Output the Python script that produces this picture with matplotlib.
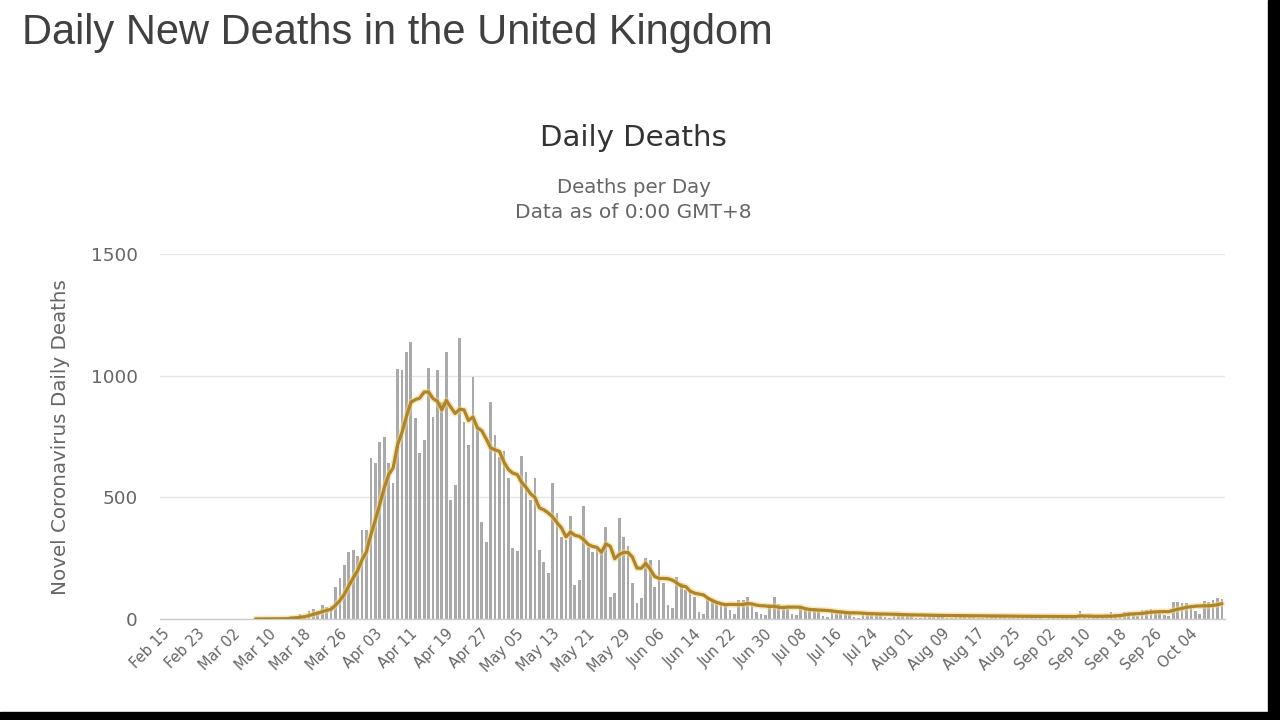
import matplotlib
matplotlib.use("Agg")
import matplotlib.pyplot as plt
import numpy as np
import pandas as pd

# ---------------- data (daily new deaths) ----------------
start_date = "2020-02-15"
feb = [0] * 15
mar = [0, 0, 0, 0, 1, 1, 0, 1, 1, 2, 2, 2, 1, 11, 14, 20, 16, 33, 40, 33,
       56, 48, 54, 133, 168, 222, 275, 283, 260, 366, 366]
apr = [661, 643, 727, 749, 640, 559, 1027, 1022, 1098, 1139, 826, 682, 735, 1031, 830,
       1022, 892, 1098, 489, 550, 1154, 811, 715, 995, 790, 400, 318, 893, 756, 667]
may = [690, 579, 292, 280, 670, 605, 489, 579, 283, 235, 189, 558, 435, 338, 325, 423,
       140, 160, 464, 297, 277, 300, 282, 379, 92, 108, 416, 337, 300, 148, 66]
jun = [86, 250, 242, 133, 242, 148, 58, 45, 174, 148, 120, 110, 90, 30, 22, 82, 78, 66,
       70, 65, 37, 20, 80, 80, 92, 60, 30, 20, 15, 60]
jul = [92, 60, 55, 40, 20, 15, 55, 50, 40, 45, 35, 12, 8, 40, 35, 30, 28, 25, 10, 6,
       30, 28, 25, 24, 22, 8, 5, 25, 22, 20, 20]
aug = [18, 6, 4, 22, 18, 18, 17, 15, 6, 4, 20, 17, 16, 16, 14, 5, 3, 18, 16, 15, 14,
       13, 5, 3, 16, 14, 13, 12, 12, 5, 2]
sep = [14, 12, 14, 12, 10, 5, 3, 32, 8, 14, 6, 9, 5, 9, 27, 20, 21, 27, 27, 18, 11,
       37, 37, 40, 34, 34, 17, 13, 71, 71]
oct_ = [66, 66, 49, 33, 19, 76, 70, 77, 87, 81]

title = "Daily New Deaths in the United Kingdom"
chart_title = "Daily Deaths"
subtitle1 = "Deaths per Day"
subtitle2 = "Data as of 0:00 GMT+8"
ylabel = "Novel Coronavirus Daily Deaths"
yticks = [0, 500, 1000, 1500]
label_step = 8
last_label = "Oct 04"

values = feb + mar + apr + may + jun + jul + aug + sep + oct_
dates = pd.date_range(start_date, periods=len(values), freq="D")
labels = [d.strftime("%b %d") for d in dates]

# ---------------- figure ----------------
W, H = 1280, 720
fig = plt.figure(figsize=(W / 100, H / 100), dpi=100)
fig.patch.set_facecolor("white")


def fx(px):
    return px / W


def fy(py):
    return 1 - py / H


ax = fig.add_axes([fx(160), fy(619), fx(1225) - fx(160), fy(254) - fy(619)])
idx = np.arange(len(values))

ax.bar(idx, values, width=0.62, color="#aaaaaa", linewidth=0, zorder=2)

avg = pd.Series(values, dtype=float).rolling(7, min_periods=1).mean()
first = int(np.argmax(np.array(values) > 0)) + 1
ax.plot(idx[first:], avg.values[first:], color="#efd68c", lw=4.6, alpha=0.55,
        zorder=3, solid_capstyle="round")
ax.plot(idx[first:], avg.values[first:], color="#b08428", lw=2.3, zorder=4,
        solid_capstyle="round")

ax.set_xlim(-1.6, 238.7)
ax.set_ylim(0, 1500)
ax.set_yticks(yticks)
ax.set_yticklabels([str(v) for v in yticks])
ax.yaxis.grid(True, color="#e6e6e6", lw=1)
ax.set_axisbelow(True)
for s in ["top", "right", "left"]:
    ax.spines[s].set_visible(False)
ax.spines["bottom"].set_color("#cccccc")
ax.spines["bottom"].set_linewidth(1)

tick_pos = [i for i in range(0, len(values), label_step) if i <= labels.index(last_label)]
ax.set_xticks(tick_pos)
ax.set_xticklabels([labels[i] for i in tick_pos], rotation=45, ha="right",
                   rotation_mode="anchor", va="center")
ax.tick_params(axis="x", length=0, pad=9, labelsize=10.5, labelcolor="#666666")
ax.tick_params(axis="y", length=0, pad=16, labelsize=13.2, labelcolor="#666666")
for t in ax.get_xticklabels() + ax.get_yticklabels():
    t.set_fontfamily("DejaVu Sans")

renderer = fig.canvas.get_renderer()


def fit_text(x, y, s, target_w, ha="center", va="baseline", rotation=0, **kw):
    t = fig.text(fx(x), fy(y), s, fontsize=20, ha=ha, va=va, **kw)
    w = t.get_window_extent(renderer).width
    t.set_fontsize(20 * target_w / w)
    t.set_rotation(rotation)
    return t


fit_text(22, 44, title, 751, ha="left", color="#404040", family="Liberation Sans")
fit_text(633, 146, chart_title, 187, color="#333333", family="DejaVu Sans")
fit_text(634, 193, subtitle1, 154, color="#666666", family="DejaVu Sans")
fit_text(633, 218, subtitle2, 236, color="#666666", family="DejaVu Sans")
fit_text(61, 437, ylabel, 315, va="center", rotation=90, color="#666666",
         family="DejaVu Sans")

# dark frame strips of the screenshot
fig.add_artist(plt.Rectangle((fx(1268), 0), 1 - fx(1268), 1, transform=fig.transFigure,
                             color="black", zorder=10))
fig.add_artist(plt.Rectangle((0, 0), 1, fy(712), transform=fig.transFigure,
                             color="black", zorder=10))

fig.savefig("out.png", dpi=100, facecolor="white")
